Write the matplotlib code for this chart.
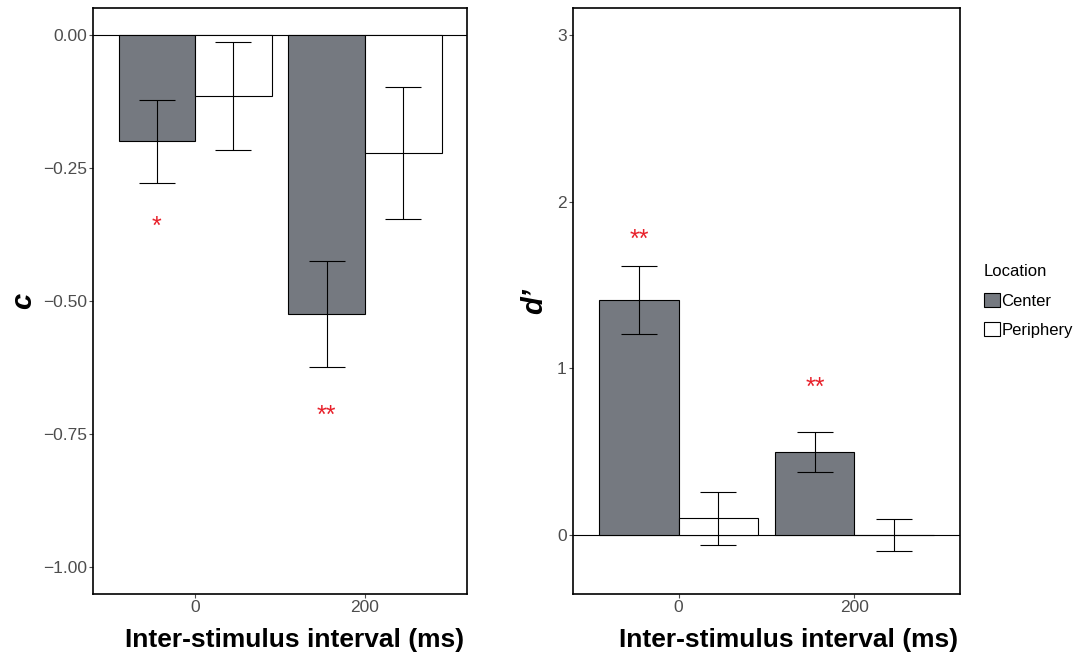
import matplotlib
matplotlib.use("Agg")
import matplotlib.pyplot as plt
import numpy as np
from matplotlib.patches import Patch

plt.rcParams['font.family'] = ['Liberation Sans', 'DejaVu Sans']

isi_labels = ["0", "200"]
locations = ["Center", "Periphery"]

c_center = [-0.200, -0.524]
c_center_err = [0.078, 0.100]
c_periph = [-0.115, -0.222]
c_periph_err = [0.102, 0.124]

d_center = [1.41, 0.50]
d_center_err = [0.205, 0.12]
d_periph = [0.10, 0.003]
d_periph_err = [0.158, 0.096]

c_stars = ["*", "**"]
c_star_y = [-0.36, -0.715]
d_stars = ["**", "**"]
d_star_y = [1.77, 0.88]

col_center = "#757980"
col_periph = "#FFFFFF"
tick_col = "#4D4D4D"

fig = plt.figure(figsize=(10.84, 6.57), dpi=100)
W, H = 1084, 657
ax1 = fig.add_axes([93/W, 1-594/H, (467-93)/W, (594-8)/H])
ax2 = fig.add_axes([573/W, 1-594/H, (960-573)/W, (594-8)/H])

x = np.arange(1, len(isi_labels)+1)
bw = 0.45

def draw(ax, cen, cerr, per, perr, stars, stary, xl_shift):
    ax.bar(x - bw/2, cen, bw, color=col_center, edgecolor="black", linewidth=0.8, zorder=2)
    ax.bar(x + bw/2, per, bw, color=col_periph, edgecolor="black", linewidth=0.8, zorder=2)
    ax.errorbar(x - bw/2, cen, yerr=cerr, fmt="none", ecolor="black", elinewidth=0.8,
                capsize=13, capthick=0.8, zorder=3)
    ax.errorbar(x + bw/2, per, yerr=perr, fmt="none", ecolor="black", elinewidth=0.8,
                capsize=13, capthick=0.8, zorder=3)
    ax.axhline(0, color="black", linewidth=0.8, zorder=1)
    for xi, s, yv in zip(x - bw/2, stars, stary):
        ax.text(xi, yv, s, color="#E8202A", fontsize=18, ha="center", va="center")
    ax.set_xlim(0.4, 2.6)
    ax.set_xticks(x)
    ax.set_xticklabels(isi_labels)
    ax.tick_params(axis="both", colors=tick_col, labelcolor=tick_col, labelsize=12.5,
                   length=3, width=0.8, pad=1.5)
    for sp in ax.spines.values():
        sp.set_linewidth(1.2)
        sp.set_color("black")
    ax.set_xlabel("Inter-stimulus interval (ms)", fontsize=19, fontweight="bold")
    ax.xaxis.set_label_coords(0.5 + xl_shift, -0.058)

draw(ax1, c_center, c_center_err, c_periph, c_periph_err, c_stars, c_star_y, 15/374)
ax1.set_ylim(-1.0508, 0.0508)
ax1.set_yticks([0, -0.25, -0.5, -0.75, -1.0])
ax1.set_yticklabels(["0.00", "\u22120.25", "\u22120.50", "\u22120.75", "\u22121.00"])
ax1.set_ylabel("c", fontsize=21, fontweight="bold", fontstyle="italic", labelpad=4)

draw(ax2, d_center, d_center_err, d_periph, d_periph_err, d_stars, d_star_y, 22/387)
ax2.set_ylim(-0.354, 3.162)
ax2.set_yticks([0, 1, 2, 3])
ax2.set_ylabel("d\u2019", fontsize=21, fontweight="bold", fontstyle="italic", labelpad=6)

handles = [Patch(facecolor=col_center, edgecolor="black", linewidth=0.8, label="Center"),
           Patch(facecolor=col_periph, edgecolor="black", linewidth=0.8, label="Periphery")]
leg = fig.legend(handles=handles, title="Location", loc="center left",
                 bbox_to_anchor=(969/W, 1-301/H), frameon=False, fontsize=12,
                 title_fontsize=12, handlelength=0.95, handleheight=0.95,
                 handletextpad=0.1, labelspacing=0.8)
leg._legend_box.align = "left"

fig.savefig("out.png", dpi=100)
